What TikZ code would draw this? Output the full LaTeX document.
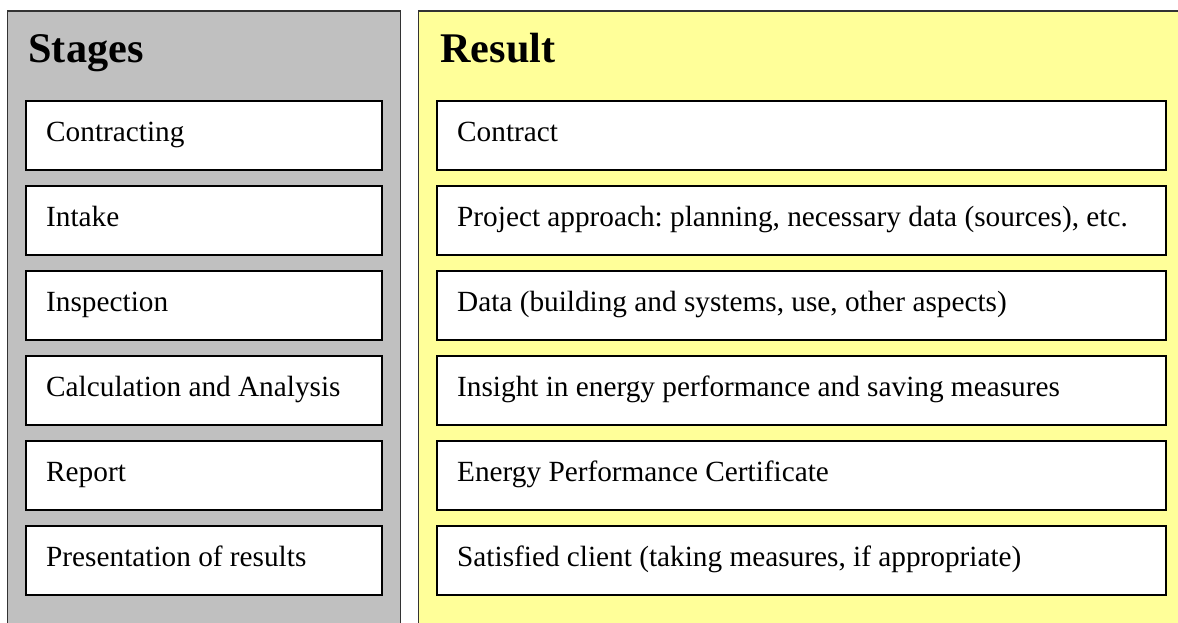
\documentclass[tikz,border=0pt]{standalone}
\usepackage{fontspec}
\setmainfont{Liberation Serif}
\usetikzlibrary{positioning}
\definecolor{panelgray}{HTML}{C0C0C0}
\definecolor{panelyellow}{HTML}{FFFF99}
\frenchspacing

\begin{document}
\begin{tikzpicture}[x=0.4167pt,y=-0.4167pt,node distance=35.42pt,on grid,
  panel/.style={draw=black!80,line width=0.6pt},
  item/.style={draw,fill=white,line width=0.8pt,inner xsep=0pt,inner ysep=0pt,
    text height=16.67pt,text depth=12.08pt,align=flush left,
    font=\fontsize{12.2}{14}\selectfont,execute at begin node={\hspace*{8.4pt}}},
  stage/.style={item,text width=148.3pt},
  result/.style={item,text width=303.75pt},
  heading/.style={anchor=base west,inner sep=0pt,font=\fontsize{17.6}{20}\selectfont\bfseries}]
  \useasboundingbox (0,0) rectangle (1178,622);
  \clip (0,0) rectangle (1178,622);
  % the two columns run off the page at the bottom and on the right
  \fill[white] (0,0) rectangle (1178,622);
  \draw[panel,fill=panelgray] (7.5,11) rectangle (400.5,640);
  \draw[panel,fill=panelyellow] (418.5,11) rectangle (1200,640);
  \node[heading] (stagestitle) at (28,62) {Stages};
  \node[heading] (resulttitle) at (440,62) {Result};
  % left column
  \node[stage] (s1) at (204,135.5) {Contracting};
  \node[stage] (s2) [below=of s1] {Intake};
  \node[stage] (s3) [below=of s2] {Inspection};
  \node[stage] (s4) [below=of s3] {Calculation and Analysis};
  \node[stage] (s5) [below=of s4] {Report};
  \node[stage] (s6) [below=of s5] {Presentation of results};
  % right column
  \node[result] (r1) at (801.5,135.5) {Contract};
  \node[result] (r2) [below=of r1] {Project approach: planning, necessary data (sources), etc.};
  \node[result] (r3) [below=of r2] {Data (building and systems, use, other aspects)};
  \node[result] (r4) [below=of r3] {Insight in energy performance and saving measures};
  \node[result] (r5) [below=of r4] {Energy Performance Certificate};
  \node[result] (r6) [below=of r5] {Satisfied client (taking measures, if appropriate)};
\end{tikzpicture}
\end{document}
